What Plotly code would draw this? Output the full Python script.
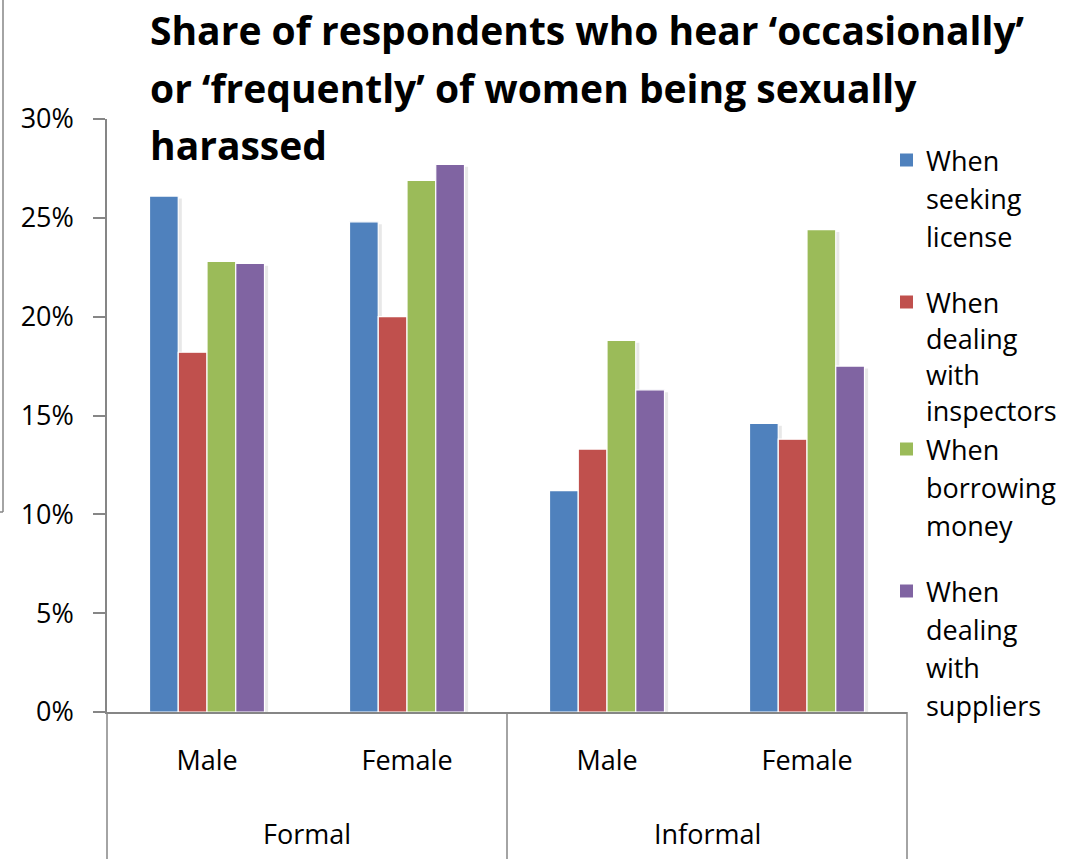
import plotly.graph_objects as go

# ---- data -------------------------------------------------------------
sectors = ["Formal", "Informal"]
genders = ["Male", "Female", "Male", "Female"]

series_names = [
    "When seeking license",
    "When dealing with inspectors",
    "When borrowing money",
    "When dealing with suppliers",
]
legend_lines = [
    ["When", "seeking", "license"],
    ["When", "dealing", "with", "inspectors"],
    ["When", "borrowing", "money"],
    ["When", "dealing", "with", "suppliers"],
]
seeking_license = [26.1, 24.8, 11.2, 14.6]
dealing_inspectors = [18.2, 20.0, 13.3, 13.8]
borrowing_money = [22.8, 26.9, 18.8, 24.4]
dealing_suppliers = [22.7, 27.7, 16.3, 17.5]
series_values = [seeking_license, dealing_inspectors, borrowing_money, dealing_suppliers]

y_ticks = [0, 5, 10, 15, 20, 25, 30]
y_tick_labels = ["0%", "5%", "10%", "15%", "20%", "25%", "30%"]

title_lines = [
    "Share of respondents who hear \u2018occasionally\u2019",
    "or \u2018frequently\u2019 of women being sexually",
    "harassed",
]

# ---- style ------------------------------------------------------------
colors = ["#4F81BD", "#C0504D", "#9BBB59", "#8064A2"]
axis_gray = "#868686"
FONT = "'Open Sans', Lato, sans-serif"
TXT = 27

W, H = 1084, 859
L, R, T, B = 107, 907, 119, 712  # plot area in pixels


def px_x(px):
    return (px - L) / (R - L)


def px_y(py):
    return (B - py) / (B - T)


x_pos = list(range(len(genders)))
bar_w = 0.14375
group_start = -0.2875

fig = go.Figure()

# soft drop shadows behind the bars
for i, vals in enumerate(series_values):
    fig.add_trace(go.Bar(
        x=x_pos, y=[v - 0.12 for v in vals],
        width=bar_w, offset=group_start + i * bar_w + 0.018,
        marker=dict(color="rgba(0,0,0,0.09)", line=dict(width=0)),
        showlegend=False, hoverinfo="skip",
    ))

for i, vals in enumerate(series_values):
    fig.add_trace(go.Bar(
        x=x_pos, y=vals, name=series_names[i],
        width=bar_w, offset=group_start + i * bar_w,
        marker=dict(color=colors[i], line=dict(color="white", width=1.2)),
        showlegend=False,
    ))

shapes = []
annotations = []

# category dividers below the axis
for xd in (0, 0.5, 1):
    shapes.append(dict(type="line", xref="x domain", yref="paper",
                       x0=xd, x1=xd, y0=0, y1=px_y(H + 5),
                       line=dict(color=axis_gray, width=1.5)))

# sector labels
for j, s in enumerate(sectors):
    annotations.append(dict(x=2 * j + 0.5, xref="x", y=px_y(833), yref="paper",
                            text=s, showarrow=False, xanchor="center", yanchor="middle",
                            font=dict(family=FONT, size=TXT, color="#000")))

# title
for line, py in zip(title_lines, [30, 87, 144]):
    annotations.append(dict(x=px_x(148), xref="paper", y=px_y(py), yref="paper",
                            text="<b>" + line + "</b>", showarrow=False,
                            xanchor="left", yanchor="middle",
                            font=dict(family=FONT, size=39, color="#000")))

# legend: swatch plus one annotation per wrapped line
item_tops = [160, 302, 449, 591]
line_steps = [38.0, 36.0, 38.0, 38.0]
for i, lines in enumerate(legend_lines):
    y0 = item_tops[i]
    shapes.append(dict(type="rect", xref="paper", yref="paper",
                       x0=px_x(900), x1=px_x(913), y0=px_y(y0 - 6.5), y1=px_y(y0 + 6.5),
                       fillcolor=colors[i], line=dict(width=0)))
    for n, txt in enumerate(lines):
        annotations.append(dict(x=px_x(924), xref="paper", y=px_y(y0 + n * line_steps[i]),
                                yref="paper", text=txt, showarrow=False,
                                xanchor="left", yanchor="middle",
                                font=dict(family=FONT, size=TXT, color="#000")))

# frame edge at the left border
shapes.append(dict(type="line", xref="paper", yref="paper",
                   x0=px_x(3), x1=px_x(3), y0=px_y(-5), y1=px_y(512),
                   line=dict(color=axis_gray, width=1.5)))
shapes.append(dict(type="line", xref="paper", yref="paper",
                   x0=px_x(-5), x1=px_x(3), y0=px_y(512), y1=px_y(512),
                   line=dict(color=axis_gray, width=1.5)))

fig.update_layout(
    width=W, height=H,
    margin=dict(l=L, r=W - R, t=T, b=H - B, pad=0),
    paper_bgcolor="white", plot_bgcolor="white",
    barmode="overlay",
    font=dict(family=FONT, size=TXT, color="#000"),
    shapes=shapes, annotations=annotations,
    xaxis=dict(range=[-0.5, 3.5], tickvals=x_pos, ticktext=genders,
               showline=True, linecolor=axis_gray, linewidth=1.5,
               ticks="", showgrid=False, zeroline=False,
               ticklabelstandoff=24,
               tickfont=dict(family=FONT, size=TXT, color="#000")),
    yaxis=dict(range=[0, 30], tickvals=y_ticks, ticktext=y_tick_labels,
               showline=True, linecolor=axis_gray, linewidth=1.5,
               ticks="outside", ticklen=12, tickcolor=axis_gray, tickwidth=1.5,
               ticklabelstandoff=14, showgrid=False, zeroline=False,
               tickfont=dict(family=FONT, size=TXT, color="#000")),
)

fig.write_html("out.html")
